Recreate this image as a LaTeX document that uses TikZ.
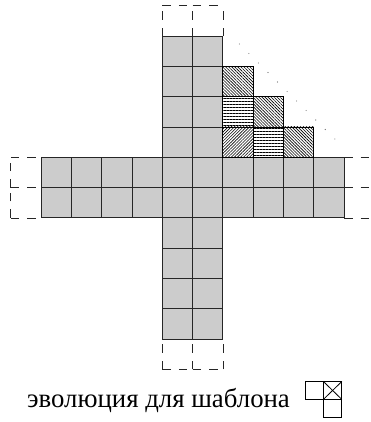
\documentclass[tikz,border=0pt]{standalone}
\usepackage{fontspec}
\setmainfont{Liberation Serif}
\usetikzlibrary{patterns.meta}
\begin{document}
\begin{tikzpicture}[x=1pt,y=-1pt,
  gridline/.style={draw=black!85,line width=0.9pt},
  dsh/.style={draw=black!85,line width=0.8pt,dash pattern=on 8.5pt off 8pt},
  hatchbox/.style={draw=black,line width=0.9pt},
  cellfill/.style={fill=black!20}]
\useasboundingbox (0,0) rectangle (370,422);
\def\cs{30.3}
% gray cells
\fill[cellfill] (162.3,36.1) rectangle (222.9,339.1);
\fill[cellfill] (41.1,157.3) rectangle (344.1,217.9);
% grid of the vertical column
\foreach \k in {0,...,10} \draw[gridline] (162.3,{36.1+\k*\cs}) -- (222.9,{36.1+\k*\cs});
\foreach \i in {0,1,2} \draw[gridline] ({162.3+\i*\cs},36.1) -- ({162.3+\i*\cs},339.1);
% grid of the horizontal band
\foreach \k in {0,1,2} \draw[gridline] (41.1,{157.3+\k*\cs}) -- (344.1,{157.3+\k*\cs});
\foreach \i in {0,...,10} \draw[gridline] ({41.1+\i*\cs},157.3) -- ({41.1+\i*\cs},217.9);
% hatched cells
\tikzset{
  pnw/.style={pattern={Lines[angle=-45,distance=2.15pt,line width=0.6pt]}},
  pne/.style={pattern={Lines[angle=45,distance=2.15pt,line width=0.6pt]}},
  phz/.style={pattern={Lines[angle=0,distance=3pt,line width=0.6pt]}}}
\path[pnw] (222.9,66.4) rectangle (253.2,96.7);
\path[phz] (222.9,96.7) rectangle (253.2,127);
\path[pne] (222.9,127) rectangle (253.2,157.3);
\path[pnw] (253.2,96.7) rectangle (283.5,127);
\path[phz] (253.2,127) rectangle (283.5,157.3);
\path[pnw] (283.5,127) rectangle (313.8,157.3);
\draw[hatchbox] (222.9,66.4) rectangle (253.2,96.7);
\draw[hatchbox] (222.9,96.7) rectangle (253.2,127);
\draw[hatchbox] (222.9,127) rectangle (253.2,157.3);
\draw[hatchbox] (253.2,96.7) rectangle (283.5,127);
\draw[hatchbox] (253.2,127) rectangle (283.5,157.3);
\draw[hatchbox] (283.5,127) rectangle (313.8,157.3);
% dotted diagonal
\foreach \n in {0,...,10} \fill[black!60] ({239.3+\n*9.55},{44+\n*9.5}) circle (0.55pt);
% dashed extensions: top
\foreach \x in {162.3,192.6,222.9} \draw[dsh] (\x,36.1) -- (\x,5.8);
\draw[dsh] (162.3,5.8) -- (192.6,5.8);
\draw[dsh] (192.6,5.8) -- (222.9,5.8);
% bottom
\foreach \x in {162.3,192.6,222.9} \draw[dsh] (\x,369.4) -- (\x,339.1);
\draw[dsh] (162.3,369.4) -- (192.6,369.4);
\draw[dsh] (192.6,369.4) -- (222.9,369.4);
% left
\foreach \y in {157.3,187.6,217.9} \draw[dsh] (10.8,\y) -- (41.1,\y);
\draw[dsh] (10.8,217.9) -- (10.8,187.6);
\draw[dsh] (10.8,187.6) -- (10.8,157.3);
% right
\foreach \y in {157.3,187.6,217.9} \draw[dsh] (344.1,\y) -- (374.4,\y);
% caption
\node[anchor=base west,inner sep=0pt,font=\fontsize{26.8}{30}\selectfont] (cap) at (27,407) {эволюция для шаблона};
% template icon
\draw[line width=0.8pt] (305,381.5) rectangle (323.4,399.4);
\draw[line width=0.8pt] (323.4,381.5) rectangle (341.8,399.4);
\draw[line width=0.8pt] (323.4,399.4) rectangle (341.8,417.3);
\draw[line width=0.8pt] (323.4,381.5) -- (341.8,399.4) (341.8,381.5) -- (323.4,399.4);
\end{tikzpicture}
\end{document}
